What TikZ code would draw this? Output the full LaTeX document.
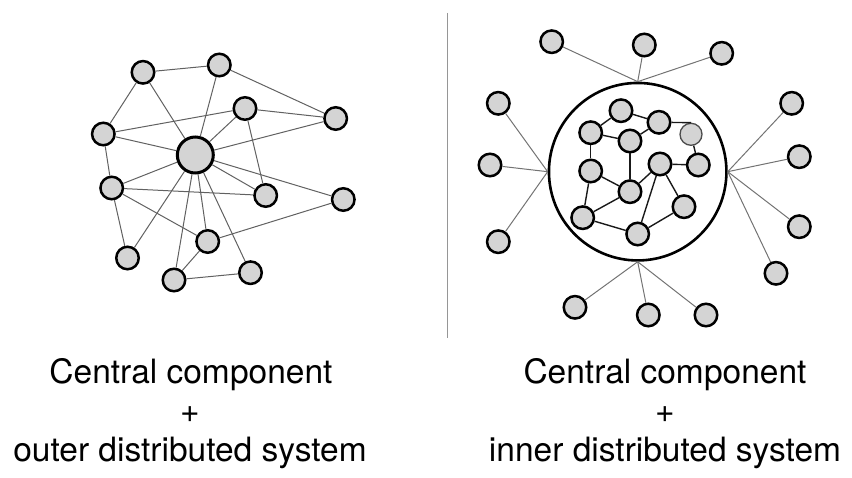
\documentclass[tikz,border=0pt]{standalone}
\usepackage{fontspec}
\setmainfont{TeX Gyre Heros}
\definecolor{nodegray}{RGB}{212,212,212}
\definecolor{sepgray}{RGB}{150,150,150}
\begin{document}
\begin{tikzpicture}[x=1pt,y=-1pt,
  nd/.style={circle,draw=black,line width=2.5pt,fill=nodegray,minimum size=22.5pt,inner sep=0pt},
  hub/.style={nd,line width=3pt,minimum size=36pt},
  soft/.style={nd,line width=1.3pt,draw=black!70,minimum size=22pt},
  ring/.style={circle,draw=black,line width=2.6pt,minimum size=177.5pt,inner sep=0pt},
  edge/.style={draw=black!62,line width=1pt},
  outedge/.style={draw=black!55,line width=1pt},
  inedge/.style={draw=black!90,line width=1.4pt},
  lbl/.style={anchor=base,inner sep=0pt,font=\fontsize{33.5}{40}\selectfont}]
\useasboundingbox (0,0) rectangle (852,478);

% separator
\coordinate (sepTop) at (447.7,13);
\coordinate (sepBot) at (447.7,338);
\draw[sepgray,line width=1.5pt] (sepTop) -- (sepBot);

% ---------- left: central component + outer distributed system
\node[hub] (hub) at (195.3,155) {};
\node[nd] (A) at (143,72.3) {};
\node[nd] (B) at (219.3,65) {};
\node[nd] (C) at (245,108.5) {};
\node[nd] (D) at (335.7,118.5) {};
\node[nd] (E) at (103.3,134) {};
\node[nd] (F) at (111.7,188) {};
\node[nd] (G) at (265.7,195.5) {};
\node[nd] (H) at (343.3,199.5) {};
\node[nd] (I) at (207.7,241.5) {};
\node[nd] (J) at (127.5,258) {};
\node[nd] (K) at (174,280) {};
\node[nd] (L) at (250.5,272.7) {};

\foreach \a/\b in {A/B,A/E,A/hub,B/hub,B/D,C/D,C/hub,C/G,E/C,E/hub,E/F,
  D/hub,hub/F,hub/G,hub/H,hub/J,hub/K,hub/I,hub/L,F/G,F/I,F/J,I/H,I/K,K/L}
  \draw[edge] (\a) -- (\b);

% ---------- right: central component + inner distributed system
\node[ring] (ring) at (637.7,171.7) {};
\node[nd] (O1) at (551.7,41.7) {};
\node[nd] (O2) at (644.3,45) {};
\node[nd] (O3) at (721.7,53.3) {};
\node[nd] (O4) at (498.3,103.3) {};
\node[nd] (O5) at (490,165) {};
\node[nd] (O6) at (498.3,241.7) {};
\node[nd] (O7) at (791.7,103.3) {};
\node[nd] (O8) at (799.3,156.7) {};
\node[nd] (O9) at (799.3,226.7) {};
\node[nd] (O10) at (776,273.3) {};
\node[nd] (O11) at (575,307.3) {};
\node[nd] (O12) at (648.3,315) {};
\node[nd] (O13) at (706,315) {};

\foreach \o in {O1,O2,O3} \draw[outedge] (\o) -- (ring.north);
\foreach \o in {O4,O5,O6} \draw[outedge] (\o) -- (ring.west);
\foreach \o in {O7,O8,O9,O10} \draw[outedge] (\o) -- (ring.east);
\foreach \o in {O11,O12,O13} \draw[outedge] (\o) -- (ring.south);

\node[nd] (N1) at (621,110.7) {};
\node[nd] (N2) at (659,122.3) {};
\node[soft] (N3) at (691,134.3) {};
\node[nd] (N4) at (590.7,132.7) {};
\node[nd] (N5) at (630,141) {};
\node[nd] (N6) at (590.7,171) {};
\node[nd] (N7) at (660,164) {};
\node[nd] (N8) at (698.3,165) {};
\node[nd] (N9) at (630,191.7) {};
\node[nd] (N10) at (684,206.7) {};
\node[nd] (N11) at (582.7,217.7) {};
\node[nd] (N12) at (637.7,234) {};

\foreach \a/\b in {N4/N1,N1/N2,N4/N5,N5/N2,N5/N9,N4/N6,N3/N8,N7/N8,N7/N9,
  N6/N9,N6/N11,N11/N9,N11/N12,N12/N10,N7/N10,N7/N12}
  \draw[inedge] (\a) -- (\b);
\draw[inedge] (N2) -- (N3.north);

% ---------- captions
\node[lbl] (capL1) at (191,383.5) {Central component};
\node[lbl] (capL2) at (190,423) {+};
\node[lbl] (capL3) at (190,461.5) {outer distributed system};
\node[lbl] (capR1) at (665,383.5) {Central component};
\node[lbl] (capR2) at (665,423) {+};
\node[lbl] (capR3) at (665,461.5) {inner distributed system};
\end{tikzpicture}
\end{document}
